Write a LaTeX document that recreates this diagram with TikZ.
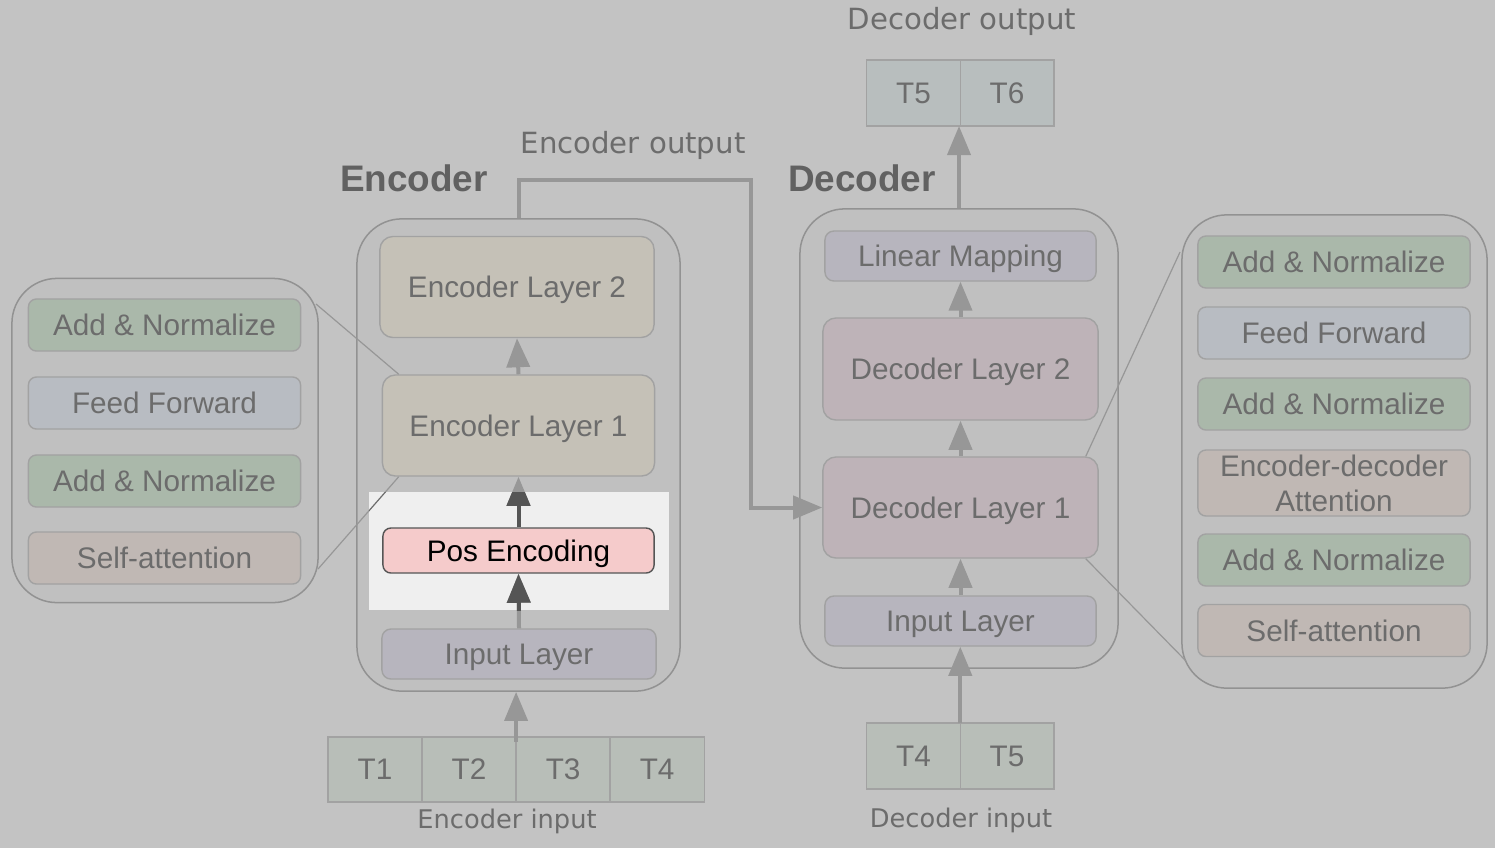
\documentclass[tikz,border=0pt]{standalone}
\usepackage{fontspec}
\setmainfont{Liberation Sans}
\newfontfamily\labelfont{DejaVu Sans}
\usetikzlibrary{arrows.meta, calc, positioning}

\definecolor{bg}{HTML}{C3C3C3}
\definecolor{holder}{HTML}{C0C0C0}
\definecolor{edge}{HTML}{A2A2A2}
\definecolor{txt}{HTML}{6C6C6C}
\definecolor{arrow}{HTML}{979797}
\definecolor{dark}{HTML}{555555}
\definecolor{glow}{HTML}{EFEFEF}
\definecolor{encfill}{HTML}{C5C1B7}
\definecolor{decfill}{HTML}{BEB3B8}
\definecolor{inpfill}{HTML}{B7B5BE}
\definecolor{addfill}{HTML}{AAB8AA}
\definecolor{fffill}{HTML}{B8BCC2}
\definecolor{attfill}{HTML}{C0B8B4}
\definecolor{tokfill}{HTML}{B8BEB8}
\definecolor{outfill}{HTML}{B8BEBE}
\definecolor{posfill}{HTML}{F5CBCB}

\begin{document}
\begin{tikzpicture}[x=0.01cm, y=-0.01cm, >={Triangle[length=0.29cm,width=0.23cm]},
  every node/.style={font=\fontsize{8.45}{10}\selectfont, text=txt},
  layer/.style={draw=edge, rounded corners=0.13cm, minimum width=2.72cm, minimum height=1.01cm, inner sep=0pt, text depth=0pt},
  slim/.style={draw=edge, rounded corners=0.09cm, minimum width=2.72cm, minimum height=0.5cm, inner sep=0pt, text depth=0pt},
  part/.style={draw=edge, rounded corners=0.08cm, minimum width=2.72cm, minimum height=0.52cm, inner sep=0pt, text depth=0pt},
  box/.style={draw=edge!90!black, rounded corners=0.45cm, fill=holder, line width=0.015cm},
  tok/.style={draw=edge, fill=tokfill, minimum width=0.94cm, minimum height=0.65cm, inner sep=0pt, outer sep=0pt},
  io/.style={font=\labelfont\fontsize{8.3}{10}\selectfont},
  ioin/.style={font=\labelfont\fontsize{7.3}{9}\selectfont},
  title/.style={font=\bfseries\fontsize{10.5}{12}\selectfont, text=txt!90!black},
  flow/.style={->, draw=arrow, line width=0.04cm},
  zoomline/.style={draw=arrow, line width=0.012cm}
]
  \fill[bg] (0,0) rectangle (1495,848);
  \useasboundingbox (0,0) rectangle (1495,848);

  % encoder side
  \node[box, minimum width=3.23cm, minimum height=4.72cm] (enc) at (518.5,455) {};
  \node[layer, fill=encfill, minimum width=2.74cm] (encTwo) at (517,287) {Encoder Layer 2};
  \node[layer, fill=encfill] (encOne) at (518.5,425.5) {Encoder Layer 1};
  \node[slim, fill=inpfill, minimum width=2.74cm] (encIn) at (519,654) {Input Layer};
  \node[title] (encName) at (414,178) {Encoder};

  \node[tok] (t1) at (375,769.5) {T1};
  \node[tok, right=0pt of t1] (t2) {T2};
  \node[tok, right=0pt of t2] (t3) {T3};
  \node[tok, right=0pt of t3] (t4) {T4};
  \node[ioin] (encInput) at (507,821) {Encoder input};
  \node[io] (encOutput) at (633,145) {Encoder output};

  % decoder side
  \node[box, minimum width=3.18cm, minimum height=4.59cm] (dec) at (959,438.5) {};
  \node[slim, fill=inpfill, minimum width=2.71cm] (lin) at (960.5,256) {Linear Mapping};
  \node[layer, fill=decfill, minimum width=2.75cm, minimum height=1.02cm] (decTwo) at (960.5,369) {Decoder Layer 2};
  \node[layer, fill=decfill, minimum width=2.75cm] (decOne) at (960.5,507.5) {Decoder Layer 1};
  \node[slim, fill=inpfill, minimum width=2.71cm] (decIn) at (960.5,621) {Input Layer};
  \node[title] (decName) at (862,178) {Decoder};

  \node[tok, minimum width=0.935cm, minimum height=0.66cm] (d4) at (913.5,756) {T4};
  \node[tok, minimum width=0.935cm, minimum height=0.66cm, right=0pt of d4] (d5) {T5};
  \node[ioin] (decInput) at (961,820) {Decoder input};
  \node[tok, fill=outfill, minimum width=0.935cm, minimum height=0.66cm] (o5) at (913.5,93) {T5};
  \node[tok, fill=outfill, minimum width=0.935cm, minimum height=0.66cm, right=0pt of o5] (o6) {T6};
  \node[io] (decOutput) at (962,21) {Decoder output};

  % encoder layer in detail
  \node[box, minimum width=3.06cm, minimum height=3.24cm] (encZoom) at (165,440.5) {};
  \node[part, fill=addfill] (lan1) at (164.5,325) {Add \& Normalize};
  \node[part, fill=fffill] (lff) at (164.5,403) {Feed Forward};
  \node[part, fill=addfill] (lan2) at (164.5,481) {Add \& Normalize};
  \node[part, fill=attfill] (lsa) at (164.5,558) {Self-attention};

  % decoder layer in detail
  \node[box, minimum width=3.05cm, minimum height=4.73cm] (decZoom) at (1334.5,451.5) {};
  \node[part, fill=addfill] (ran1) at (1334,262) {Add \& Normalize};
  \node[part, fill=fffill] (rff) at (1334,333) {Feed Forward};
  \node[part, fill=addfill] (ran2) at (1334,404) {Add \& Normalize};
  \node[part, fill=attfill, minimum height=0.66cm, align=center, text depth=] (red) at (1334,483) {Encoder-decoder\\Attention};
  \node[part, fill=addfill] (ran3) at (1334,560) {Add \& Normalize};
  \node[part, fill=attfill] (rsa) at (1334,630.5) {Self-attention};

  \coordinate (ez1) at (316,304);
  \coordinate (ez2) at (318,569);
  \coordinate (dz1) at (1180,252);
  \coordinate (dz2) at (1186,661);
  \draw[zoomline] (ez1) -- ([xshift=0.17cm]encOne.north west);
  \draw[zoomline] (ez2) -- ([xshift=0.17cm]encOne.south west);
  \draw[zoomline] ([xshift=-0.13cm]decOne.north east) -- (dz1);
  \draw[zoomline] ([xshift=-0.13cm]decOne.south east) -- (dz2);

  % arrows
  \coordinate (bend) at (751,180);
  \draw[flow] (enc.north) |- (bend) |- (decOne.west);
  \draw[flow] ([yshift=-0.05cm]t3.north west) -- (enc.south -| t3.north west);
  \draw[flow] (encOne.north) -- (encTwo.south);
  \draw[flow] (d4.north east) -- (d4.north east |- decIn.south);
  \draw[flow] (decIn.north) -- (decOne.south);
  \draw[flow] (decOne.north) -- (decTwo.south);
  \draw[flow] (decTwo.north) -- (lin.south);
  \draw[flow] (dec.north) -- (dec.north |- o5.south);

  % highlighted step
  \fill[glow] (369,492) rectangle (669,610);
  \node[draw=dark, fill=posfill, rounded corners=0.08cm, minimum width=2.71cm, minimum height=0.45cm, inner sep=0pt, text depth=0pt, text=black] (pos) at (518.5,550.5) {Pos Encoding};
  \draw[flow] (encIn.north) -- (pos.south);
  \draw[flow] (pos.north) -- (encOne.south);
  \begin{scope}
    \clip (369,492) rectangle (669,610);
    \draw[zoomline, draw=txt] (ez2) -- ([xshift=0.17cm]encOne.south west);
    \draw[flow, draw=dark] (encIn.north) -- (pos.south);
    \draw[flow, draw=dark] (pos.north) -- (encOne.south);
  \end{scope}
\end{tikzpicture}
\end{document}
